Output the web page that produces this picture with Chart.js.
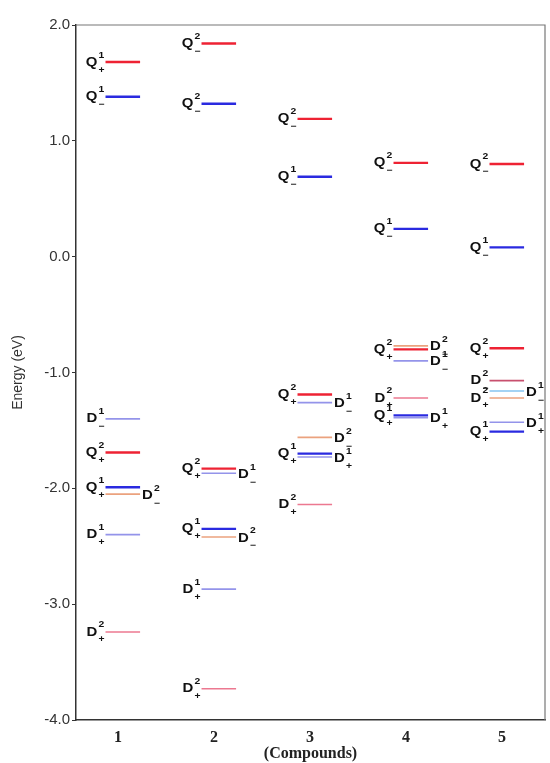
<!DOCTYPE html>
<html>
<head>
<meta charset="utf-8">
<script src="https://cdn.jsdelivr.net/npm/chart.js@4.4.0/dist/chart.umd.min.js"></script>
<style>
  html, body { margin: 0; padding: 0; background: #fff; }
  #wrap { width: 550px; height: 763px; }
</style>
</head>
<body>
<div id="wrap"><canvas id="levels"></canvas></div>
<script>
    // Compounds and y tick values
    const compounds = [1, 2, 3, 4, 5];
    const energyTicks = [2, 1, 0, -1, -2, -3, -4];

    // One entry per energy level (eV)
    const levelCompound = [1, 1, 1, 1, 1, 1, 1, 1,
                           2, 2, 2, 2, 2, 2, 2, 2,
                           3, 3, 3, 3, 3, 3, 3, 3,
                           4, 4, 4, 4, 4, 4, 4, 4,
                           5, 5, 5, 5, 5, 5, 5, 5];
    const levelEnergy = [1.68, 1.38, -1.40, -1.69, -1.99, -2.05, -2.40, -3.24,
                         1.84, 1.32, -1.83, -1.87, -2.35, -2.42, -2.87, -3.73,
                         1.19, 0.69, -1.19, -1.26, -1.56, -1.70, -1.73, -2.14,
                         0.81, 0.24, -0.80, -0.77, -0.90, -1.22, -1.37, -1.39,
                         0.80, 0.08, -0.79, -1.07, -1.16, -1.22, -1.43, -1.51];
    const levelState = ['Q', 'Q', 'D', 'Q', 'Q', 'D', 'D', 'D',
                        'Q', 'Q', 'Q', 'D', 'Q', 'D', 'D', 'D',
                        'Q', 'Q', 'Q', 'D', 'D', 'Q', 'D', 'D',
                        'Q', 'Q', 'Q', 'D', 'D', 'D', 'Q', 'D',
                        'Q', 'Q', 'Q', 'D', 'D', 'D', 'D', 'Q'];
    const levelSup = [1, 1, 1, 2, 1, 2, 1, 2,
                      2, 2, 2, 1, 1, 2, 1, 2,
                      2, 1, 2, 1, 2, 1, 1, 2,
                      2, 1, 2, 2, 1, 2, 1, 1,
                      2, 1, 2, 2, 1, 2, 1, 1];
    const levelSub = ['+', '−', '−', '+', '+', '−', '+', '+',
                      '−', '−', '+', '−', '+', '−', '+', '+',
                      '−', '−', '+', '−', '−', '+', '+', '+',
                      '−', '−', '+', '−', '−', '+', '+', '+',
                      '−', '−', '+', '−', '−', '+', '+', '+'];

    // label side for each level (L = left of the bar, R = right)
    const labelSide = ['L', 'L', 'L', 'L', 'L', 'R', 'L', 'L',
                       'L', 'L', 'L', 'R', 'L', 'R', 'L', 'L',
                       'L', 'L', 'L', 'R', 'R', 'L', 'R', 'L',
                       'L', 'L', 'L', 'R', 'R', 'L', 'L', 'R',
                       'L', 'L', 'L', 'L', 'R', 'L', 'R', 'L'];

    // bar colour for each level
    const levelTone = ['red', 'blue', 'lav', 'red', 'blue', 'orange', 'lav', 'pink',
                       'red', 'blue', 'red', 'lav', 'blue', 'orange', 'lav', 'pink',
                       'red', 'blue', 'red', 'lav', 'orange', 'blue', 'lav', 'pink',
                       'red', 'blue', 'red', 'orange', 'lav', 'pink', 'blue', 'lav',
                       'red', 'blue', 'red', 'rose', 'cyan', 'orange', 'lav', 'blue'];
    const tones = {
        red: '#ee2233',
        blue: '#2a2ae0',
        lav: '#9494ea',
        orange: '#eba27e',
        pink: '#ec7890',
        rose: '#c8506e',
        cyan: '#86c4f0'
    };

    const segLo = -0.13;   // bar start relative to compound
    const segHi = 0.23;    // bar end
    const stretch = 1.15;  // labels in the figure are wide

    const datasets = levelEnergy.map(function(e, i) {
        const c = levelCompound[i];
        const strong = levelTone[i] === 'red' || levelTone[i] === 'blue';
        return {
            data: [{ x: c + segLo, y: e }, { x: c + segHi, y: e }],
            borderColor: tones[levelTone[i]],
            borderWidth: strong ? 2.4 : 1.6,
            pointRadius: 0,
            fill: false,
            order: strong ? 0 : 1
        };
    });

    // Q/D labels with superscript and subscript
    const levelLabels = {
        id: 'levelLabels',
        afterDatasetsDraw(chart) {
            const ctx = chart.ctx;
            const x = chart.scales.x, y = chart.scales.y;
            const mainFont = 'bold 13px "Liberation Sans", Arial, sans-serif';
            const smallFont = 'bold 9px "Liberation Sans", Arial, sans-serif';
            ctx.save();
            ctx.fillStyle = '#111';
            ctx.textBaseline = 'middle';
            ctx.textAlign = 'left';
            levelEnergy.forEach(function(e, i) {
                const c = levelCompound[i];
                const py = y.getPixelForValue(e);
                const right = labelSide[i] === 'R';
                ctx.font = mainFont;
                const wMain = ctx.measureText(levelState[i]).width;
                ctx.font = smallFont;
                const wSmall = Math.max(ctx.measureText(String(levelSup[i])).width,
                                        ctx.measureText(levelSub[i]).width);
                const total = (wMain + 1 + wSmall) * stretch;
                const left = right ? x.getPixelForValue(c + segHi) + 2
                                   : x.getPixelForValue(c + segLo) - 1 - total;
                const cy = right ? py + 1 : py;
                ctx.save();
                ctx.translate(left, cy);
                ctx.scale(stretch, 1);
                ctx.font = mainFont;
                ctx.fillText(levelState[i], 0, 0);
                ctx.font = smallFont;
                ctx.fillText(String(levelSup[i]), wMain + 1, -7);
                ctx.fillText(levelSub[i], wMain + 1, 8);
                ctx.restore();
            });
            ctx.restore();
        }
    };

    // top and right frame lines
    const frame = {
        id: 'frame',
        beforeDatasetsDraw(chart) {
            const ctx = chart.ctx, a = chart.chartArea;
            ctx.save();
            ctx.strokeStyle = '#777';
            ctx.lineWidth = 1.2;
            ctx.beginPath();
            ctx.moveTo(a.left, a.top);
            ctx.lineTo(a.right, a.top);
            ctx.lineTo(a.right, a.bottom);
            ctx.stroke();
            ctx.restore();
        }
    };

    const config = {
        type: 'line',
        data: { datasets: datasets },
        options: {
            responsive: true,
            maintainAspectRatio: false,
            animation: false,
            layout: {
                padding: { top: 25, right: 5, left: 0, bottom: 0 }
            },
            scales: {
                x: {
                    type: 'linear',
                    min: 0.5625,
                    max: 5.448,
                    afterBuildTicks: function(axis) {
                        axis.ticks = compounds.map(v => ({ value: v }));
                    },
                    afterFit: function(axis) { axis.height = 43; },
                    grid: { drawOnChartArea: false, drawTicks: false },
                    border: { color: '#333', width: 1.5 },
                    ticks: {
                        padding: 8,
                        color: '#222',
                        font: { family: '"Liberation Serif", "Times New Roman", serif', size: 16, weight: 'bold' },
                        callback: function(value) { return String(value); }
                    },
                    title: {
                        display: true,
                        text: '(Compounds)',
                        color: '#222',
                        font: { family: '"Liberation Serif", "Times New Roman", serif', size: 16, weight: 'bold' },
                        padding: { top: 0, bottom: 0 }
                    }
                },
                y: {
                    min: -4,
                    max: 2,
                    afterBuildTicks: function(axis) {
                        axis.ticks = energyTicks.map(v => ({ value: v }));
                    },
                    afterFit: function(axis) { axis.width = 76; },
                    grid: { drawOnChartArea: false, tickLength: 4, color: '#333' },
                    border: { color: '#333', width: 1.5 },
                    ticks: {
                        padding: 2,
                        color: '#333',
                        font: { family: '"Liberation Sans", Arial, sans-serif', size: 15 },
                        callback: function(value) { return Number(value).toFixed(1); }
                    },
                    title: {
                        display: true,
                        text: 'Energy (eV)',
                        color: '#333',
                        font: { family: '"Liberation Sans", Arial, sans-serif', size: 14 },
                        padding: { top: 10, bottom: 0 }
                    }
                }
            },
            plugins: {
                legend: { display: false },
                tooltip: { enabled: false }
            }
        },
        plugins: [frame, levelLabels]
    };

    const ctxLevels = document.getElementById('levels').getContext('2d');
    const graficoNiveis = new Chart(ctxLevels, config);
</script>
</body>
</html>
